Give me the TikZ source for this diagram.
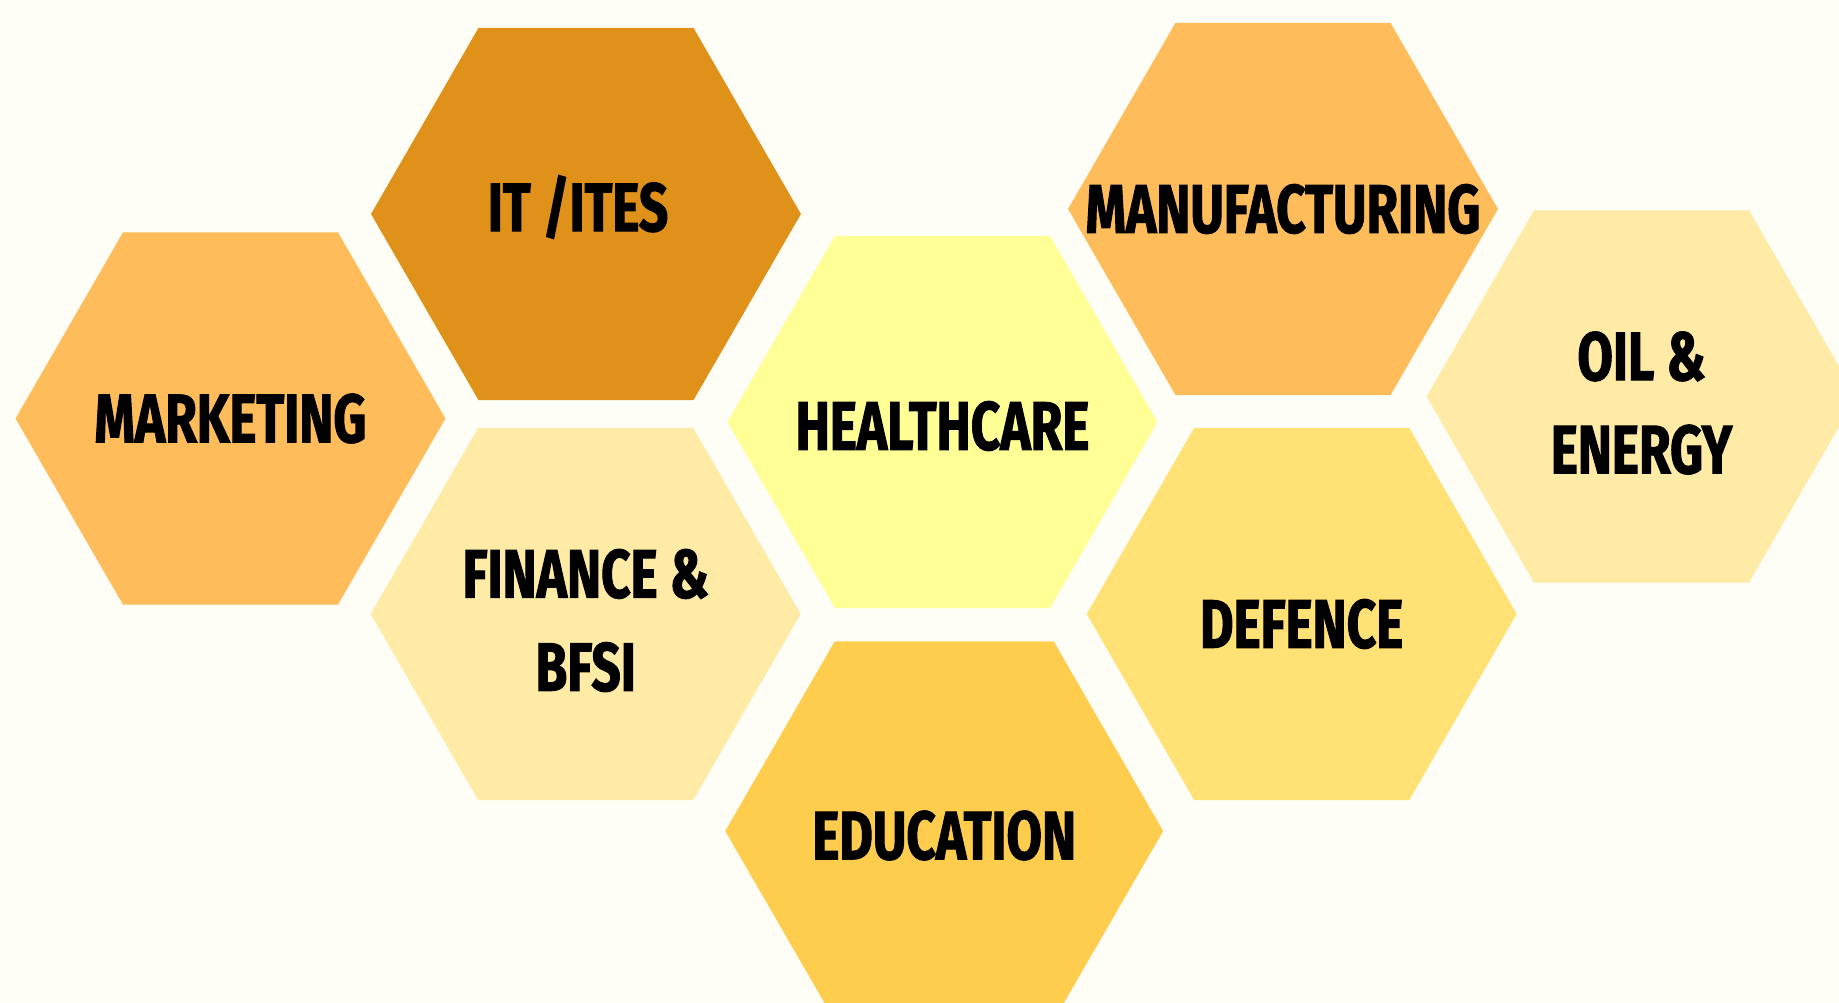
\documentclass[tikz,border=0pt]{standalone}
\usepackage{fontspec}
\setmainfont{Fira Sans}[FakeStretch=0.75, FakeBold=1.5]
\usetikzlibrary{shapes.geometric}
\definecolor{bg}{HTML}{FEFEF7}
\definecolor{cit}{HTML}{E0911A}
\definecolor{cmkt}{HTML}{FFBC5A}
\definecolor{chc}{HTML}{FFFF96}
\definecolor{coil}{HTML}{FFEBA5}
\definecolor{cdef}{HTML}{FFE176}
\definecolor{cedu}{HTML}{FFCD4E}
\tikzstyle{hexa} = [regular polygon, regular polygon sides=6, minimum size=8.6cm, inner sep=0pt, draw=none]
\tikzstyle{lbl} = [font=\fontsize{39}{53}\selectfont\bfseries, align=center, text=black, inner sep=0pt]

\begin{document}
\begin{tikzpicture}[x=0.02cm, y=-0.02cm]
			\path[use as bounding box] (0,0) rectangle (1839,1003);
			\clip (0,0) rectangle (1839,1003);
			\fill[bg] (0,0) rectangle (1839,1003);
			
			\node[hexa, fill=cit](it) at (586,214) {};
			\node[hexa, fill=cmkt](mkt) at (230.5,418.5) {};
			\node[hexa, fill=chc](hc) at (942.5,422) {};
			\node[hexa, fill=cmkt](mfg) at (1283,209) {};
			\node[hexa, fill=coil](oil) at (1641.5,396.5) {};
			\node[hexa, fill=coil](fin) at (585.7,614) {};
			\node[hexa, fill=cdef](def) at (1301.7,614) {};
			\node[hexa, fill=cedu, minimum size=8.76cm](edu) at (944.2,831) {};
			
			\node[lbl, xshift=-0.16cm, yshift=0.14cm](it-t) at (it) {IT /ITES};
			\node[lbl](mkt-t) at (mkt) {MARKETING};
			\node[lbl, yshift=-0.08cm](hc-t) at (hc) {HEALTHCARE};
			\node[lbl](mfg-t) at (mfg) {MANUFACTURING};
			\node[lbl, yshift=-0.13cm](oil-t) at (oil) {OIL \&\\ENERGY};
			\node[lbl, yshift=-0.13cm](fin-t) at (fin) {FINANCE \&\\BFSI};
			\node[lbl, yshift=-0.2cm](def-t) at (def) {DEFENCE};
			\node[lbl, yshift=-0.09cm](edu-t) at (edu) {EDUCATION};
			\end{tikzpicture}
\end{document}
